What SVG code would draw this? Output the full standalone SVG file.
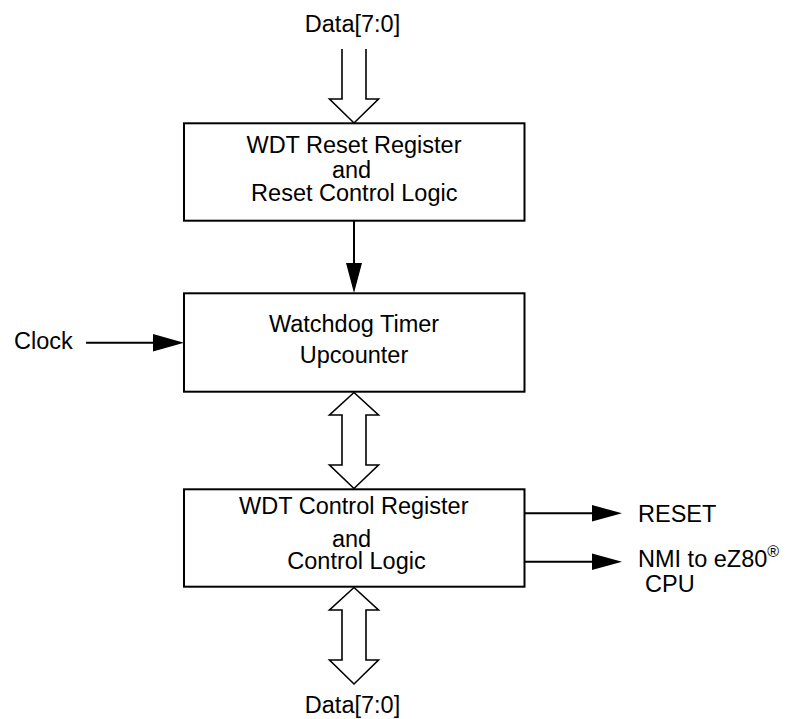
<svg xmlns="http://www.w3.org/2000/svg" width="786" height="719" viewBox="0 0 786 719">
<style>
.box{fill:#fff;stroke:#000;stroke-width:2}
.t{font-family:"Liberation Sans",Arial,sans-serif;font-size:23.5px;fill:#000}
.c{text-anchor:middle}
.ln{stroke:#000;stroke-width:2;fill:none}
.bus{fill:#fff;stroke:#000;stroke-width:1.6;stroke-linejoin:miter}
.hd{fill:#000;stroke:none}
</style>
<rect width="786" height="719" fill="#fff"/>
<g id="connectors">
  <polyline class="bus" points="342,49 342,99 329.5,99 354,123 378.5,99 366,99 366,49"/>
  <line class="ln" x1="354" y1="221" x2="354" y2="264"/>
  <polygon class="hd" points="346,263 362,263 354,293"/>
  <line class="ln" x1="86" y1="342.7" x2="154" y2="342.7"/>
  <polygon class="hd" points="153,334 153,351.5 184,342.7"/>
  <polygon class="bus" points="354,392.5 378.5,415 366,415 366,465 378.5,465 354,488.5 329.5,465 342,465 342,415 329.5,415"/>
  <polygon class="bus" points="354,587.5 378.5,610 366,610 366,660 378.5,660 354,684 329.5,660 342,660 342,610 329.5,610"/>
  <line class="ln" x1="525" y1="513.3" x2="593" y2="513.3"/>
  <polygon class="hd" points="592,505 592,521.6 622,513.3"/>
  <line class="ln" x1="525" y1="561.7" x2="593" y2="561.7"/>
  <polygon class="hd" points="592,553.4 592,570 622,561.7"/>
</g>
<g id="data-in">
  <text class="t c" x="352.5" y="32">Data[7:0]</text>
</g>
<g id="wdt-reset">
  <rect class="box" x="184" y="123.3" width="340.5" height="97.4"/>
  <text class="t c" x="354" y="153.3">WDT Reset Register</text>
  <text class="t c" x="351.5" y="178.3">and</text>
  <text class="t c" x="354.3" y="200.7">Reset Control Logic</text>
</g>
<g id="clock">
  <text class="t" x="14" y="348.5">Clock</text>
</g>
<g id="watchdog">
  <rect class="box" x="184" y="293.3" width="340.5" height="98.4"/>
  <text class="t c" x="354" y="331.5">Watchdog Timer</text>
  <text class="t c" x="354" y="363">Upcounter</text>
</g>
<g id="wdt-control">
  <rect class="box" x="184" y="489.3" width="340.5" height="97.4"/>
  <text class="t c" x="353.8" y="514.3">WDT Control Register</text>
  <text class="t c" x="351.5" y="547.3">and</text>
  <text class="t c" x="356.5" y="569.3">Control Logic</text>
</g>
<g id="reset-out">
  <text class="t" x="638" y="521.7">RESET</text>
</g>
<g id="nmi-out">
  <text class="t" x="638" y="567">NMI to eZ80<tspan font-size="16" dy="-10">®</tspan></text>
  <text class="t" x="645" y="592">CPU</text>
</g>
<g id="data-out">
  <text class="t c" x="352.5" y="713">Data[7:0]</text>
</g>
</svg>
